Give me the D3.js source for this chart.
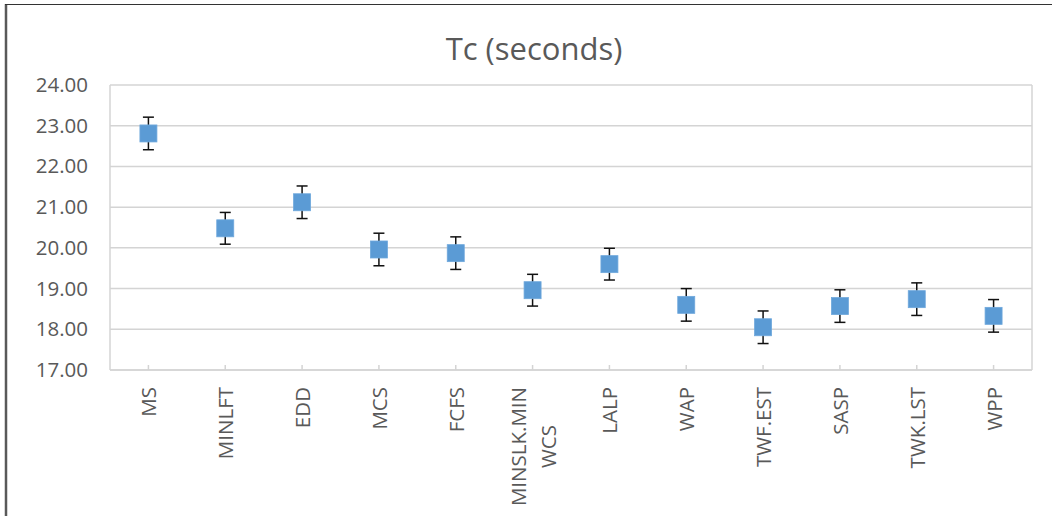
<!DOCTYPE html>
<html>
<meta charset="utf-8"></meta>
<script src="https://cdn.jsdelivr.net/npm/d3@7/dist/d3.min.js"></script>
<style>
body{margin:0;background:#fff;}
text{font-family:"Open Sans",sans-serif;fill:#595959;}
</style>
<body>
<svg id="chart" width="1052" height="516"></svg>
<script>
// data
var categories = ["MS","MINLFT","EDD","MCS","FCFS","MINSLK.MIN\nWCS","LALP","WAP","TWF.EST","SASP","TWK.LST","WPP"];
var tcValues   = [22.81, 20.48, 21.12, 19.96, 19.87, 18.96, 19.60, 18.60, 18.05, 18.57, 18.74, 18.33];
var tcErrors   = [0.40, 0.39, 0.40, 0.40, 0.40, 0.39, 0.39, 0.40, 0.40, 0.40, 0.40, 0.40];
var yTicks     = [17, 18, 19, 20, 21, 22, 23, 24];

function draw(){
	var svg = d3.select("#chart");
	var left = 110, right = 1032, top = 85, bottom = 370;

	// outer chart frame (only left and top visible)
	svg.append("line").attr("x1",6).attr("y1",4).attr("x2",6).attr("y2",516)
		.attr("stroke","#595959").attr("stroke-width",2.5);
	svg.append("line").attr("x1",5).attr("y1",4.5).attr("x2",1052).attr("y2",4.5)
		.attr("stroke","#333").attr("stroke-width",1);

	svg.append("text").attr("x",534).attr("y",60).attr("text-anchor","middle")
		.style("font-size","31px").text("Tc (seconds)");

	var x = d3.scaleBand().domain(categories).range([left,right]);
	var y = d3.scaleLinear().domain([17,24]).range([bottom,top]);

	// grid lines
	svg.append("g").selectAll("line").data(yTicks).enter().append("line")
		.attr("x1",left).attr("x2",right)
		.attr("y1",function(d){return y(d);}).attr("y2",function(d){return y(d);})
		.attr("stroke","#d4d4d4").attr("stroke-width",1.5);
	// plot area sides
	svg.append("line").attr("x1",left).attr("x2",left).attr("y1",top).attr("y2",bottom)
		.attr("stroke","#d4d4d4").attr("stroke-width",1.5);
	svg.append("line").attr("x1",right).attr("x2",right).attr("y1",top).attr("y2",bottom)
		.attr("stroke","#d4d4d4").attr("stroke-width",1.5);

	// y axis labels
	var yAxis = d3.axisLeft(y).tickValues(yTicks).tickFormat(d3.format(".2f")).tickSize(0).tickPadding(22);
	var gy = svg.append("g").attr("transform","translate("+left+",0)").call(yAxis);
	gy.select(".domain").remove();
	gy.selectAll("text").style("font-size","20.5px").attr("fill","#595959");

	// x axis line with inward ticks at category centres
	var gx = svg.append("g");
	gx.append("line").attr("x1",left).attr("x2",right).attr("y1",bottom).attr("y2",bottom)
		.attr("stroke","#d4d4d4").attr("stroke-width",1.5);
	gx.selectAll(".tk").data(categories).enter().append("line").attr("class","tk")
		.attr("x1",function(d){return x(d)+x.bandwidth()/2;})
		.attr("x2",function(d){return x(d)+x.bandwidth()/2;})
		.attr("y1",bottom-5).attr("y2",bottom)
		.attr("stroke","#d4d4d4").attr("stroke-width",1.5);

	// rotated category labels, wrapped lines centred in the block
	var labelTop = 387;
	categories.forEach(function(c){
		var lines = c.split("\n");
		var cx = x(c)+x.bandwidth()/2;
		var g = svg.append("g");
		var texts = lines.map(function(l){
			return g.append("text").style("font-size","20.5px").attr("text-anchor","middle")
				.attr("dominant-baseline","central").text(l);
		});
		var maxLen = d3.max(texts,function(t){return t.node().getComputedTextLength();});
		var midY = labelTop + maxLen/2;
		var lh = 30;
		texts.forEach(function(t,i){
			var px = cx + (i-(lines.length-1)/2)*lh;
			t.attr("transform","translate("+px+","+midY+") rotate(-90)");
		});
	});

	// error bars
	var eb = svg.append("g").selectAll("g").data(tcValues).enter().append("g");
	var cxOf = function(d,i){return x(categories[i])+x.bandwidth()/2;};
	eb.append("line")
		.attr("x1",cxOf).attr("x2",cxOf)
		.attr("y1",function(d,i){return y(d+tcErrors[i]);})
		.attr("y2",function(d,i){return y(d-tcErrors[i]);})
		.attr("stroke","#111").attr("stroke-width",1.5);
	[1,-1].forEach(function(s){
		eb.append("line")
			.attr("x1",function(d,i){return cxOf(d,i)-5.5;})
			.attr("x2",function(d,i){return cxOf(d,i)+5.5;})
			.attr("y1",function(d,i){return y(d+s*tcErrors[i]);})
			.attr("y2",function(d,i){return y(d+s*tcErrors[i]);})
			.attr("stroke","#111").attr("stroke-width",1.5);
	});

	// square markers
	svg.append("g").selectAll("rect").data(tcValues).enter().append("rect")
		.attr("x",function(d,i){return cxOf(d,i)-8.5;})
		.attr("y",function(d){return y(d)-8.5;})
		.attr("width",17).attr("height",17)
		.attr("fill","#5b9bd5").attr("stroke","#6fa8dc").attr("stroke-width",0.8);
}
draw();
</script>
</body>
</html>
